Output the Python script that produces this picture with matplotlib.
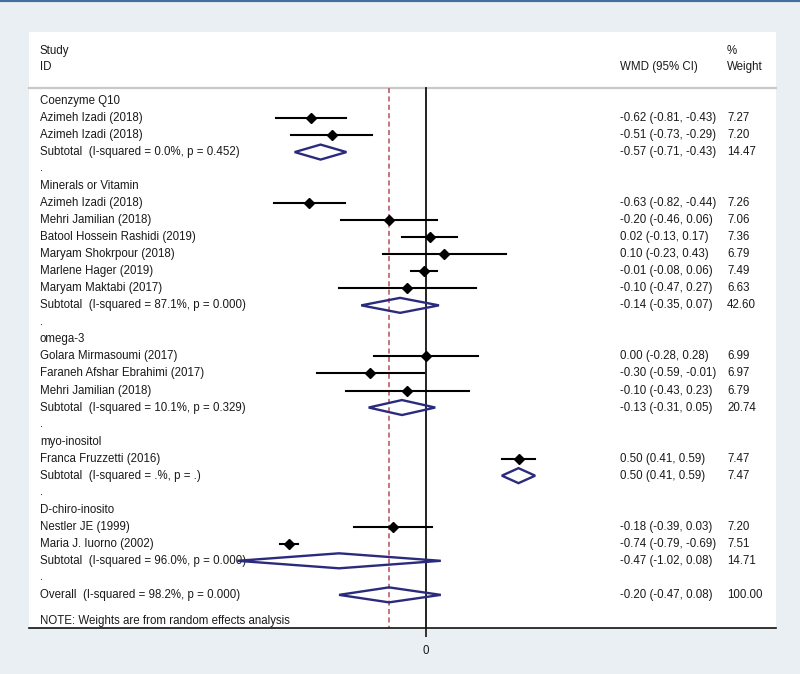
"""
Forest plot: WMD by supplement type
"""

import matplotlib
matplotlib.use('Agg')
import matplotlib.pyplot as plt
from matplotlib.lines import Line2D
from matplotlib.patches import Polygon
import matplotlib.transforms as mtransforms

plt.rcParams['font.family'] = ['Liberation Sans', 'DejaVu Sans']

# ---- data ----
groups = ['Coenzyme Q10', 'Minerals or Vitamin', 'omega-3', 'myo-inositol', 'D-chiro-inosito']

study_group = [0, 0, 1, 1, 1, 1, 1, 1, 2, 2, 2, 3, 4, 4]
study_names = ['Azimeh Izadi (2018)', 'Azimeh Izadi (2018)',
               'Azimeh Izadi (2018)', 'Mehri Jamilian (2018)', 'Batool Hossein Rashidi (2019)',
               'Maryam Shokrpour (2018)', 'Marlene Hager (2019)', 'Maryam Maktabi (2017)',
               'Golara Mirmasoumi (2017)', 'Faraneh Afshar Ebrahimi (2017)', 'Mehri Jamilian (2018)',
               'Franca Fruzzetti (2016)',
               'Nestler JE (1999)', 'Maria J. Iuorno (2002)']
study_wmd = [-0.62, -0.51, -0.63, -0.20, 0.02, 0.10, -0.01, -0.10, 0.00, -0.30, -0.10, 0.50, -0.18, -0.74]
study_lo = [-0.81, -0.73, -0.82, -0.46, -0.13, -0.23, -0.08, -0.47, -0.28, -0.59, -0.43, 0.41, -0.39, -0.79]
study_hi = [-0.43, -0.29, -0.44, 0.06, 0.17, 0.43, 0.06, 0.27, 0.28, -0.01, 0.23, 0.59, 0.03, -0.69]
study_weight = [7.27, 7.20, 7.26, 7.06, 7.36, 6.79, 7.49, 6.63, 6.99, 6.97, 6.79, 7.47, 7.20, 7.51]

sub_i2 = ['0.0%', '87.1%', '10.1%', '.%', '96.0%']
sub_p = ['0.452', '0.000', '0.329', '.', '0.000']
sub_wmd = [-0.57, -0.14, -0.13, 0.50, -0.47]
sub_lo = [-0.71, -0.35, -0.31, 0.41, -1.02]
sub_hi = [-0.43, 0.07, 0.05, 0.59, 0.08]
sub_weight = [14.47, 42.60, 20.74, 7.47, 14.71]

overall_i2 = '98.2%'
overall_p = '0.000'
overall_wmd = -0.20
overall_lo = -0.47
overall_hi = 0.08
overall_weight = 100.00

# ---- layout (pixels of an 800x674 canvas) ----
W, H = 800, 674
bg = '#e9eff2'
txt = '#1a1a1a'
navy = '#2b2b7e'
red = '#b4505c'
fs = 8.3

px0, px1 = 29, 776          # white panel left/right
py0, py1 = 32, 628          # white panel top / axis line
zero_px, unit_px = 426, 185  # x of 0 and pixels per WMD unit
row0_px, row_px = 101, 17.03

def row_of(py):
    return (py - row0_px) / row_px

fig = plt.figure(figsize=(W / 100, H / 100), dpi=100, facecolor=bg)
ax = fig.add_axes([px0 / W, (H - py1) / H, (px1 - px0) / W, (py1 - py0) / H])
ax.set_facecolor('white')
ax.set_xlim((px0 - zero_px) / unit_px, (px1 - zero_px) / unit_px)
ax.set_ylim(row_of(py1), row_of(py0))

for s in ['top', 'left', 'right']:
    ax.spines[s].set_visible(False)
ax.spines['bottom'].set_linewidth(1.2)
ax.spines['bottom'].set_color('#111111')
ax.set_yticks([])
ax.set_xticks([0])
ax.set_xticklabels(['0'], fontsize=fs, color=txt)
ax.tick_params(axis='x', length=6.5, width=1.2, pad=6, color='#111111')

trans = mtransforms.blended_transform_factory(ax.transAxes, ax.transData)
x_lab = (40 - px0) / (px1 - px0)
x_ci = (620 - px0) / (px1 - px0)
x_w = (727 - px0) / (px1 - px0)

def put(x, y, s):
    ax.text(x, y, s, transform=trans, fontsize=fs, color=txt, va='center', ha='left')

# header
put(x_lab, row_of(51), 'Study')
put(x_lab, row_of(67), 'ID')
put(x_ci, row_of(67), 'WMD (95% CI)')
put(x_w, row_of(51), '%')
put(x_w, row_of(67), 'Weight')
hdr = row_of(88)
ax.plot([0, 1], [hdr, hdr], transform=trans, color='#c9c9c9', lw=1.6, clip_on=False)

ybot = row_of(py1)
ax.plot([0, 0], [hdr, ybot], color='#111111', lw=1.3, zorder=2)
ax.plot([overall_wmd, overall_wmd], [hdr, ybot], color=red, lw=1.1,
        linestyle=(0, (3.3, 2.2)), zorder=2)

def ci_text(m, lo, hi):
    return f'{m:.2f} ({lo:.2f}, {hi:.2f})'

def diamond(m, lo, hi, y):
    h = 0.44
    ax.add_patch(Polygon([(lo, y), (m, y - h), (hi, y), (m, y + h)], closed=True,
                         fill=False, edgecolor=navy, lw=1.7, zorder=5))

row = 0
for g, gname in enumerate(groups):
    put(x_lab, row, gname)
    row += 1
    for i in range(len(study_names)):
        if study_group[i] != g:
            continue
        ax.plot([study_lo[i], study_hi[i]], [row, row], color='black', lw=1.5, zorder=4)
        ax.plot(study_wmd[i], row, marker='D', color='black', markersize=4.8, zorder=4)
        put(x_lab, row, study_names[i])
        put(x_ci, row, ci_text(study_wmd[i], study_lo[i], study_hi[i]))
        put(x_w, row, f'{study_weight[i]:.2f}')
        row += 1
    diamond(sub_wmd[g], sub_lo[g], sub_hi[g], row)
    put(x_lab, row, f'Subtotal  (I-squared = {sub_i2[g]}, p = {sub_p[g]})')
    put(x_ci, row, ci_text(sub_wmd[g], sub_lo[g], sub_hi[g]))
    put(x_w, row, f'{sub_weight[g]:.2f}')
    row += 1
    put(x_lab, row - 0.05, '.')
    row += 1

diamond(overall_wmd, overall_lo, overall_hi, row)
put(x_lab, row, f'Overall  (I-squared = {overall_i2}, p = {overall_p})')
put(x_ci, row, ci_text(overall_wmd, overall_lo, overall_hi))
put(x_w, row, f'{overall_weight:.2f}')
put(x_lab, row_of(621), 'NOTE: Weights are from random effects analysis')

# thin blue rule along the top edge
fig.add_artist(Line2D([0, 1], [1, 1], transform=fig.transFigure, color='#41709e', lw=3))

fig.savefig('out.png', dpi=100, facecolor=bg)
